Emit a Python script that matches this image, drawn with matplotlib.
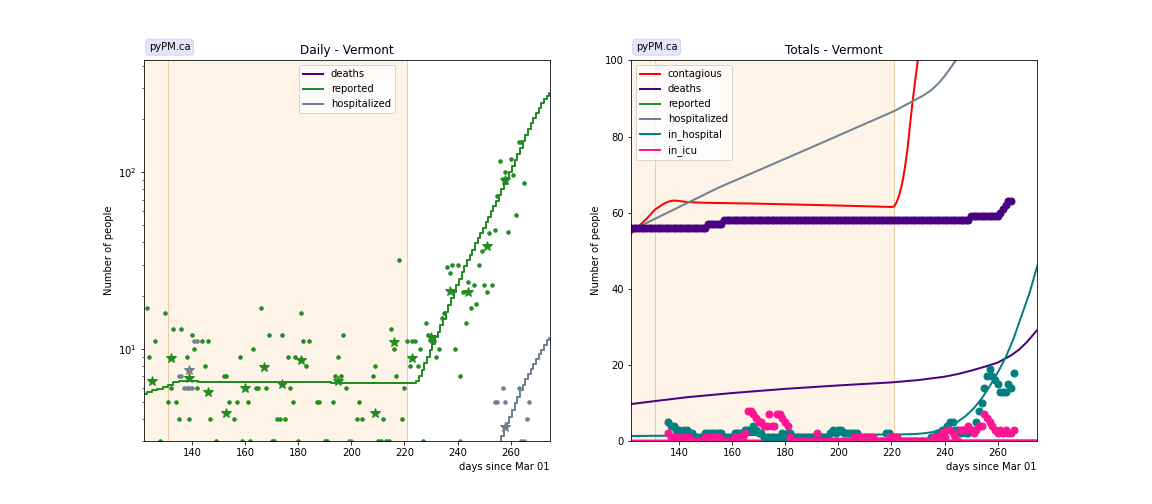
import numpy as np
import matplotlib.pyplot as plt

state = 'Vermont'
x_range = (122, 274.7)
fit_start, fit_end = 131, 221

# --- Daily panel data ---
# daily reported cases, one value per day from rep_start (0 = nothing shown)
rep_start = 122
rep_daily = [0, 17, 9, 0, 11, 0, 3, 0, 16, 5,        # 122-131
             6, 13, 5, 4, 13, 0, 9, 4, 12, 10,       # 132-141
             6, 0, 11, 8, 11, 4, 0, 3, 0, 0,         # 142-151
             7, 7, 5, 0, 4, 5, 9, 3, 0, 5,           # 152-161
             3, 10, 6, 6, 17, 0, 6, 12, 3, 3,        # 162-171
             4, 4, 12, 4, 9, 6, 5, 9, 3, 16,         # 172-181
             11, 8, 11, 0, 0, 5, 5, 0, 3, 3,         # 182-191
             0, 5, 7, 9, 7, 12, 6, 0, 0, 0,          # 192-201
             4, 5, 4, 0, 0, 0, 7, 8, 3, 3,           # 202-211
             4, 3, 3, 13, 10, 7, 32, 4, 6, 11,       # 212-221
             8, 11, 11, 8, 10, 3, 14, 12, 11, 11,    # 222-231
             9, 10, 15, 16, 29, 27, 30, 10, 30, 7,   # 232-241
             21, 14, 24, 17, 23, 18, 30, 36, 23, 21,  # 242-251
             45, 23, 47, 73, 116, 92, 100, 46, 119, 96,  # 252-261
             57, 149, 149, 87]                       # 262-265

# weekly averages (stars)
rep_week_days = [125, 132, 139, 146, 153, 160, 167, 174, 181, 195,
                 209, 216, 223, 230, 237, 244, 251, 258]
rep_week_vals = [6.6, 8.9, 6.8, 5.7, 4.3, 6.0, 7.9, 6.3, 8.6, 6.6,
                 4.3, 10.9, 8.9, 11.7, 21.2, 20.9, 38.4, 90]

hosp_days = [135, 136, 137, 138, 139, 140, 141, 142, 199, 200,
             241, 254, 255, 257, 258, 263, 264, 265, 266, 267]
hosp_vals = [7, 7, 6, 6, 6, 6, 11, 11, 3, 3,
             3, 5, 5, 6, 5, 6, 3, 3, 4, 5]
hosp_week_days = [139, 258]
hosp_week_vals = [7.6, 3.6]

# model daily reported (step line)
rep_line_days = [120, 122, 124, 126, 128, 130, 132, 134, 136, 138, 140, 142,
                 143, 192, 193, 223,
                 224, 225, 226, 227, 228, 229, 230, 231, 232, 233,
                 234, 235, 236, 237, 238, 239, 240, 241, 242, 243,
                 244, 245, 246, 247, 248, 249, 250, 251, 252, 253,
                 254, 255, 256, 257, 258, 259, 260, 261, 262, 263,
                 264, 265, 266, 267, 268, 269, 270, 271, 272, 273,
                 274, 275]
rep_line_vals = [5.45, 5.55, 5.65, 5.8, 5.95, 6.1, 6.25, 6.45, 6.6, 6.6, 6.6, 6.55,
                 6.45, 6.45, 6.37, 6.37,
                 6.4, 6.6, 7.0, 7.6, 8.3, 9.0, 9.8, 10.7, 11.6, 12.5,
                 13.6, 14.8, 16.2, 17.6, 19.3, 21.0, 23.0, 25.0, 27.3, 29.5,
                 31.8, 34.0, 36.5, 39.5, 42.5, 45.5, 48.5, 52, 56, 60,
                 64, 69, 74, 80, 86, 93, 100, 108, 117, 127,
                 138, 150, 163, 176, 190, 204, 218, 232, 246, 260,
                 272, 282]

# model daily hospitalized (step line)
hosp_line_days = [255, 256, 257, 258, 259, 260, 261, 262, 263, 264, 265,
                  266, 267, 268, 269, 270, 271, 272, 273, 274, 275]
hosp_line_vals = [2.7, 2.9, 3.2, 3.5, 3.8, 4.1, 4.5, 4.9, 5.3, 5.8, 6.2,
                  6.7, 7.2, 7.7, 8.2, 8.7, 9.3, 9.9, 10.5, 11.2, 11.5]

# --- Totals panel data ---
death_start = 120
death_tot = [56, 56, 56, 56, 56, 56, 56, 56, 56, 56,   # 120-129
             56, 56, 56, 56, 56, 56, 56, 56, 56, 56,   # 130-139
             56, 56, 56, 56, 56, 56, 56, 56, 56, 56,   # 140-149
             56, 57, 57, 57, 57, 57, 57, 58, 58, 58,   # 150-159
             58, 58, 58, 58, 58, 58, 58, 58, 58, 58,   # 160-169
             58, 58, 58, 58, 58, 58, 58, 58, 58, 58,   # 170-179
             58, 58, 58, 58, 58, 58, 58, 58, 58, 58,   # 180-189
             58, 58, 58, 58, 58, 58, 58, 58, 58, 58,   # 190-199
             58, 58, 58, 58, 58, 58, 58, 58, 58, 58,   # 200-209
             58, 58, 58, 58, 58, 58, 58, 58, 58, 58,   # 210-219
             58, 58, 58, 58, 58, 58, 58, 58, 58, 58,   # 220-229
             58, 58, 58, 58, 58, 58, 58, 58, 58, 58,   # 230-239
             58, 58, 58, 58, 58, 58, 58, 58, 58, 58,   # 240-249
             59, 59, 59, 59, 59, 59, 59, 59, 59, 59,   # 250-259
             59, 60, 61, 62, 63, 63]                   # 260-265

hc_start = 136
in_hosp = [5, 4, 4, 3, 3, 2, 3, 3, 2, 2,       # 136-145
           1, 1, 1, 1, 2, 2, 2, 2, 2, 2,       # 146-155
           2, 1, 1, 1, 1, 2, 2, 2, 2, 3,       # 156-165
           3, 3, 4, 3, 2, 2, 1, 1, 1, 1,       # 166-175
           1, 1, 1, 2, 1, 2, 2, 1, 1, 1,       # 176-185
           1, 1, 1, 1, 1, 1, 1, 1, 1, 1,       # 186-195
           1, 2, 3, 2, 3, 3, 2, 2, 2, 2,       # 196-205
           2, 2, 0, 0, 0, 0, 0, 0, 0, 0,       # 206-215
           0, 0, 2, 2, 0, 0, 0, 0, 0, 0,       # 216-225
           0, 0, 0, 0, 0, 0, 0, 0, 0, 1,       # 226-235
           1, 2, 2, 3, 3, 4, 5, 5, 3, 3,       # 236-245
           2, 3, 2, 2, 3, 3, 5, 8, 10, 14,     # 246-255
           17, 19, 17, 16, 15, 13, 13, 13, 15, 14,  # 256-265
           18]                                 # 266
in_icu = [2, 1, 1, 1, 1, 0, 1, 1, 1, 0,        # 136-145
          0, 0, 0, 0, 1, 1, 1, 1, 1, 1,        # 146-155
          0, 0, 0, 0, 0, 1, 1, 1, 1, 2,        # 156-165
          8, 8, 7, 6, 5, 5, 4, 4, 7, 4,        # 166-175
          4, 7, 7, 6, 5, 4, 1, 0, 0, 0,        # 176-185
          0, 0, 0, 0, 0, 0, 2, 0, 0, 0,        # 186-195
          0, 0, 0, 0, 0, 0, 0, 0, 0, 0,        # 196-205
          1, 1, 1, 1, 1, 1, 1, 1, 0, 0,        # 206-215
          0, 0, 0, 1, 1, 1, 1, 0, 0, 0,        # 216-225
          0, 0, 0, 0, 0, 0, 0, 0, 0, 0,        # 226-235
          1, 1, 1, 2, 1, 3, 3, 2, 1, 0,        # 236-245
          3, 3, 3, 4, 3, 2, 3, 4, 4, 7,        # 246-255
          6, 5, 4, 3, 2, 3, 2, 3, 2, 2,        # 256-265
          3]                                   # 266

# model totals
cont_days = [120, 122, 125, 128, 131, 134, 136, 138, 140, 143, 150, 168, 193, 210,
             220, 221, 222, 223, 224, 225, 226, 227, 228, 229, 230, 231]
cont_vals = [53.0, 54.5, 56.5, 58.5, 60.8, 62.2, 62.9, 63.2, 63.1, 62.8, 62.6, 62.4, 62.0, 61.7,
             61.5, 61.6, 62.8, 64.8, 67.5, 71.5, 76.5, 83.0, 89.5, 95.0, 100.5, 107.0]
hosp_tot_days = [120, 122, 155, 190, 221, 228, 232, 235, 238, 240, 242, 244, 246]
hosp_tot_vals = [54.7, 55.3, 66.6, 77.2, 86.7, 89.3, 90.8, 92.2, 94.2, 95.9, 97.8, 99.8, 102.5]
death_line_days = [120, 122, 130, 143, 160, 180, 200, 220, 230, 240, 245, 250, 255,
                   260, 265, 268, 271, 275]
death_line_vals = [9.6, 9.7, 10.4, 11.5, 12.6, 13.7, 14.6, 15.4, 16.0, 16.9, 17.6, 18.5, 19.5,
                   20.6, 22.5, 24.0, 26.0, 29.3]
inh_line_days = [120, 122, 150, 180, 221, 228, 232, 236, 240, 244, 248, 251, 254, 257,
                 260, 263, 266, 268, 270, 272, 275]
inh_line_vals = [1.3, 1.3, 1.5, 1.6, 1.7, 1.8, 2.0, 2.4, 3.3, 4.6, 6.6, 8.6, 11.2, 14.4,
                 18.0, 22.0, 27.0, 31.0, 35.0, 39.0, 46.3]
icu_line_days = [120, 275]
icu_line_vals = [0.1, 0.2]

c_death, c_rep, c_hosp = 'indigo', 'forestgreen', 'slategrey'
c_cont, c_inh, c_icu = 'red', 'teal', 'deeppink'
span_col, edge_col = '#fdf4e7', '#e8cca6'

fig, axes = plt.subplots(1, 2, figsize=(16, 7), dpi=72)
fig.subplots_adjust(left=0.125, right=0.9, bottom=0.125, top=0.88, wspace=0.2)


def decorate(ax, title):
    ax.axvspan(100, fit_end, facecolor=span_col, zorder=0)
    ax.axvline(fit_start, color=edge_col, lw=1, zorder=0.5)
    ax.axvline(fit_end, color=edge_col, lw=1, zorder=0.5)
    ax.set_xlim(x_range)
    ax.set_title(title)
    ax.set_ylabel('Number of people')
    ax.set_xlabel('days since Mar 01', loc='right')
    ax.text(0.012, 1.035, 'pyPM.ca', transform=ax.transAxes, ha='left', va='center',
            fontsize=10, bbox=dict(boxstyle='round,pad=0.3', facecolor='lavender',
                                   edgecolor='#d4d4f2'))


# --- (a) Daily ---
ax = axes[0]
decorate(ax, 'Daily - ' + state)
ax.set_yscale('log')
ax.set_ylim(3, 430)

rep_daily = np.array(rep_daily, dtype=float)
rep_d = np.arange(rep_start, rep_start + len(rep_daily))
keep = rep_daily > 0
ax.plot([], [], color=c_death, lw=2, label='deaths')
ax.plot(rep_line_days, rep_line_vals, color=c_rep, lw=2, drawstyle='steps-mid', label='reported')
ax.plot(hosp_line_days, hosp_line_vals, color=c_hosp, lw=2, drawstyle='steps-mid',
        label='hospitalized')
ax.plot(rep_d[keep], rep_daily[keep], 'o', color=c_rep, ms=3.5, ls='none')
ax.plot(hosp_days, hosp_vals, 'o', color=c_hosp, ms=3.5, ls='none')
ax.plot(rep_week_days, rep_week_vals, '*', color=c_rep, ms=11, ls='none')
ax.plot(hosp_week_days, hosp_week_vals, '*', color=c_hosp, ms=11, ls='none')
ax.legend(loc='upper center')

# --- (b) Totals ---
ax = axes[1]
decorate(ax, 'Totals - ' + state)
ax.set_ylim(0, 100)

death_d = np.arange(death_start, death_start + len(death_tot))
hc_d = np.arange(hc_start, hc_start + len(in_hosp))
ax.plot(cont_days, cont_vals, color=c_cont, lw=2, label='contagious')
ax.plot(death_line_days, death_line_vals, color=c_death, lw=2, label='deaths')
ax.plot([], [], color=c_rep, lw=2, label='reported')
ax.plot(hosp_tot_days, hosp_tot_vals, color=c_hosp, lw=2, label='hospitalized')
ax.plot(inh_line_days, inh_line_vals, color=c_inh, lw=2, label='in_hospital')
ax.plot(icu_line_days, icu_line_vals, color=c_icu, lw=2, label='in_icu')
ax.plot(death_d, death_tot, 'o', color=c_death, ms=7, ls='none')
ax.plot(hc_d, in_hosp, 'o', color=c_inh, ms=7, ls='none')
ax.plot(hc_d, in_icu, 'o', color=c_icu, ms=7, ls='none')
ax.legend(loc='upper left')

plt.savefig('out.png', dpi=72)
plt.close()
